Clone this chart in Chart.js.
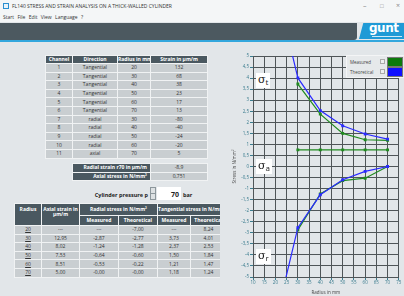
<!DOCTYPE html>
<html><head><meta charset="utf-8">
<script src="https://cdn.jsdelivr.net/npm/chart.js@4.4.1/dist/chart.umd.min.js"></script>
<style>
html,body{margin:0;padding:0;}
body{width:404px;height:296px;overflow:hidden;position:relative;background:#e2e6e9;font-family:"Liberation Sans Narrow","Open Sans",Arial,sans-serif;color:#333;}
.abs{position:absolute;}
#titlebar{left:0;top:0;width:404px;height:12px;background:#f4f6f7;}
#icon{left:3px;top:3px;width:4px;height:4px;border:1.5px solid #2b8fd0;background:#e8f4fb;}
#title{left:12px;top:2.5px;font-family:"Open Sans",sans-serif;font-size:5px;color:#333;white-space:nowrap;}
#menu{left:0;top:12px;width:404px;height:10px;background:#f4f6f7;}
#menutext{left:3px;top:13.5px;font-family:"Open Sans",sans-serif;font-size:5px;color:#333;word-spacing:2px;white-space:nowrap;}
.wc{top:1px;font-family:"Open Sans",sans-serif;font-size:7px;color:#888;}
#dark{left:0;top:22.5px;width:357px;height:17px;background:#4c5960;border-bottom-right-radius:3px;}
#bluel{left:0;top:40px;width:404px;height:2px;background:#33a7dd;}
#logo{left:359px;top:22.5px;width:50px;height:16px;background:#1f9ad6;transform:skewX(-15deg);transform-origin:bottom left;}
#logotxt{left:369px;top:21px;font-family:"DejaVu Sans",sans-serif;font-weight:bold;font-size:12px;color:#fff;letter-spacing:-0.5px;}
#logosub{left:372px;top:35.5px;width:30px;height:1.5px;background:#cfe9f7;}
table{border-collapse:collapse;table-layout:fixed;position:absolute;font-size:5px;}
td,th{border:1px solid #f0f2f3;padding:0;text-align:center;overflow:hidden;white-space:nowrap;line-height:5px;}
th{background:#4a5860;color:#fff;font-weight:bold;}
td{background:#c9ced1;color:#333;}
#t1 th{height:7px;}
#t1 td{height:7.6px;}
#t2 td{height:7.5px;}
#t2 td.lab{background:#4a5860;color:#fff;font-weight:bold;text-align:right;padding-right:3px;}
#t3 th.w{white-space:normal;}
#t3 th{overflow:visible;}
#t3 td{height:7.6px;}
#t3wrap{left:14px;top:203px;width:206px;height:80px;overflow:hidden;}
.u{text-decoration:underline;}
#cp{left:80px;top:191px;width:68px;text-align:right;font-size:5.5px;font-weight:bold;color:#222;}
#spin{left:150px;top:187px;width:6px;height:13px;background:#8d979c;}
#spin div{position:absolute;left:1px;width:4px;height:5px;background:#dde1e3;}
#inp{left:157px;top:187px;width:24px;height:13px;background:#fff;}
#inptxt{left:157px;top:190px;width:22px;text-align:right;font-size:7px;font-weight:bold;color:#222;}
#bar{left:183px;top:191px;font-size:5.5px;font-weight:bold;color:#222;}
#chartbox{left:220px;top:50px;width:184px;height:246px;}
.sig{background:#fff;font-family:"DejaVu Serif","Liberation Serif",serif;font-size:11px;line-height:11px;color:#222;padding:1px 2px 1px 2px;}
.sig sub{font-family:"Open Sans",sans-serif;font-size:8px;vertical-align:-2px;}
#legend{left:346px;top:55px;width:58px;height:21px;background:#e6e9eb;border:1px solid #f4f5f6;font-size:4.5px;color:#444;}
.lrow{position:absolute;left:3px;}
.cb{position:absolute;width:3px;height:3px;border:1px solid #aaa;background:#eef0f1;}
.sw{position:absolute;width:14px;height:8px;border:1px solid #777;}
</style></head>
<body>
<div class="abs" id="titlebar"></div>
<div class="abs" id="icon"></div>
<div class="abs" id="title">FL140 STRESS AND STRAIN ANALYSIS ON A THICK-WALLED CYLINDER</div>
<div class="abs" id="menu"></div>
<div class="abs" id="menutext">Start File Edit View Language ?</div>
<div class="abs wc" style="left:363px;">–</div>
<div class="abs wc" style="left:380px;font-size:6px;top:1.5px;">□</div>
<div class="abs wc" style="left:396px;">×</div>
<div class="abs" id="dark"></div>
<div class="abs" id="logo"></div>
<div class="abs" id="bluel"></div>
<div class="abs" id="logotxt">gunt</div>
<div class="abs" id="logosub"></div>

<table id="t1" style="left:45px;top:55px;width:162px;"></table>
<table id="t2" style="left:72px;top:163px;width:135px;"></table>
<div class="abs" id="cp">Cylinder pressure p</div>
<div class="abs" id="spin"><div style="top:1px;"></div><div style="top:7px;"></div></div>
<div class="abs" id="inp"></div>
<div class="abs" id="inptxt"></div>
<div class="abs" id="bar">bar</div>
<div class="abs" id="t3wrap"><table id="t3" style="left:0;top:0;width:212px;"></table></div>

<div class="abs" id="chartbox"><canvas id="c" width="184" height="246"></canvas></div>
<div class="abs sig" style="left:256px;top:73px;">σ<sub>t</sub></div>
<div class="abs sig" style="left:256px;top:159px;">σ<sub>a</sub></div>
<div class="abs sig" style="left:256px;top:249px;">σ<sub>r</sub></div>
<div class="abs" id="legend">
  <div class="lrow" style="top:3px;">Measured</div>
  <div class="cb" style="left:33px;top:3px;"></div>
  <div class="sw" style="left:40px;top:1px;background:#0c7a0c;"></div>
  <div class="lrow" style="top:13px;">Theoretical</div>
  <div class="cb" style="left:33px;top:13px;"></div>
  <div class="sw" style="left:40px;top:11px;background:#1010ff;"></div>
</div>

<script>
// ---- data ----
const channels = [1,2,3,4,5,6,7,8,9,10,11];
const directions = ["Tangential","Tangential","Tangential","Tangential","Tangential","Tangential","radial","radial","radial","radial","axial"];
const channelRadii = [20,30,40,50,60,70,30,40,50,60,70];
const strains = [132,68,38,23,17,13,-80,-40,-24,-20,5];
const radialStrainR70 = "-8,9";
const axialStressText = "0,751";
const axialStress = 0.751;
const pressure = 70;

const radii = [20,30,40,50,60,70];
const axialStrain = [null,12.95,8.02,7.53,8.51,5.00];
const radialMeasured = [null,-2.87,-1.24,-0.64,-0.53,-0.00];
const radialTheoretical = [-7.00,-2.77,-1.28,-0.60,-0.22,-0.00];
const tangMeasured = [null,3.73,2.37,1.50,1.21,1.18];
const tangTheoretical = [8.24,4.01,2.53,1.84,1.47,1.24];
const axialMeasured = [null,0.751,0.751,0.751,0.751,0.751];

const xTicks = {min:10,max:75,step:5};
const yTicks = {min:-5,max:5,step:0.5};

// ---- tables ----
const fmt = v => v===null ? "---" : (Object.is(v,-0) ? "-0,00" : v.toFixed(2).replace('.',','));
let h = '<colgroup><col style="width:27px"><col style="width:45px"><col style="width:33px"><col style="width:57px"></colgroup>';
h += '<tr><th>Channel</th><th>Direction</th><th>Radius in mm</th><th>Strain in µm/m</th></tr>';
channels.forEach((c,i)=>{ h += `<tr><td>${c}</td><td>${directions[i]}</td><td>${channelRadii[i]}</td><td>${strains[i]}</td></tr>`; });
document.getElementById('t1').innerHTML = h;
document.getElementById('t2').innerHTML = '<colgroup><col style="width:78px"><col style="width:57px"></colgroup>' +
  `<tr><td class="lab">Radial strain r70 in µm/m</td><td>${radialStrainR70}</td></tr>` +
  `<tr><td class="lab">Axial stress in N/mm²</td><td>${axialStressText}</td></tr>`;
document.getElementById('inptxt').textContent = pressure;
let h3 = '<colgroup><col style="width:27px"><col style="width:38px"><col style="width:39px"><col style="width:39px"><col style="width:33px"><col style="width:36px"></colgroup>';
h3 += '<tr><th rowspan="2" style="vertical-align:top;padding-top:3px;">Radius</th><th class="w" rowspan="2" style="vertical-align:top;padding-top:3px;">Axial strain in µm/m</th><th colspan="2" style="height:11px;">Radial stress in N/mm²</th><th colspan="2">Tangential stress in N/mm²</th></tr>';
h3 += '<tr><th style="height:9px;">Measured</th><th>Theoretical</th><th>Measured</th><th>Theoretical</th></tr>';
radii.forEach((r,i)=>{
  h3 += `<tr><td class="u">${r}</td><td>${fmt(axialStrain[i])}</td><td>${fmt(radialMeasured[i])}</td><td>${fmt(radialTheoretical[i])}</td><td>${fmt(tangMeasured[i])}</td><td>${fmt(tangTheoretical[i])}</td></tr>`;
});
document.getElementById('t3').innerHTML = h3;

// ---- chart ----
const green = '#1f8a1f', blue = '#2a2aff';
const pts = arr => radii.map((r,i)=>arr[i]===null?null:{x:r,y:arr[i]}).filter(p=>p);
const ds = (arr,color) => ({data:pts(arr),borderColor:color,backgroundColor:color,borderWidth:1.2,pointRadius:1.2,pointStyle:'rect',tension:0,fill:false});
const tickFont = {family:'"Open Sans",sans-serif',size:4.5};
new Chart(document.getElementById('c'),{
  type:'line',
  data:{datasets:[
    ds(tangTheoretical,blue), ds(tangMeasured,green),
    ds(axialMeasured,green),
    ds(radialTheoretical,blue), ds(radialMeasured,green)
  ]},
  options:{
    responsive:false,animation:false,
    layout:{padding:{top:6,right:4,left:0,bottom:0}},
    plugins:{legend:{display:false},tooltip:{enabled:false}},
    scales:{
      x:{type:'linear',min:xTicks.min,max:xTicks.max,
        ticks:{stepSize:xTicks.step,color:'#3a7c8e',font:tickFont,padding:0,maxRotation:0,autoSkip:false},
        grid:{color:'#4f5558',lineWidth:1,tickLength:3,tickColor:'#3a7c8e'},
        border:{color:'#4f5558'},
        title:{display:true,text:'Radius in mm',color:'#444',font:{family:'"Open Sans",sans-serif',size:4.5},padding:{top:0,bottom:1}},
        afterFit:s=>{s.height=19;}},
      y:{type:'linear',min:yTicks.min,max:yTicks.max,
        ticks:{stepSize:yTicks.step,color:'#3a7c8e',font:tickFont,padding:1,autoSkip:false,
          callback:v=>String(Math.round(v*10)/10).replace('.',',')},
        grid:{color:'#4f5558',lineWidth:1,tickLength:3,tickColor:'#3a7c8e'},
        border:{color:'#4f5558'},
        title:{display:true,text:'Stress in N/mm²',color:'#444',font:{family:'"Open Sans",sans-serif',size:4.5},padding:{top:12,bottom:0}},
        afterFit:s=>{s.width=33;}}
    }
  }
});
</script>
</body></html>
